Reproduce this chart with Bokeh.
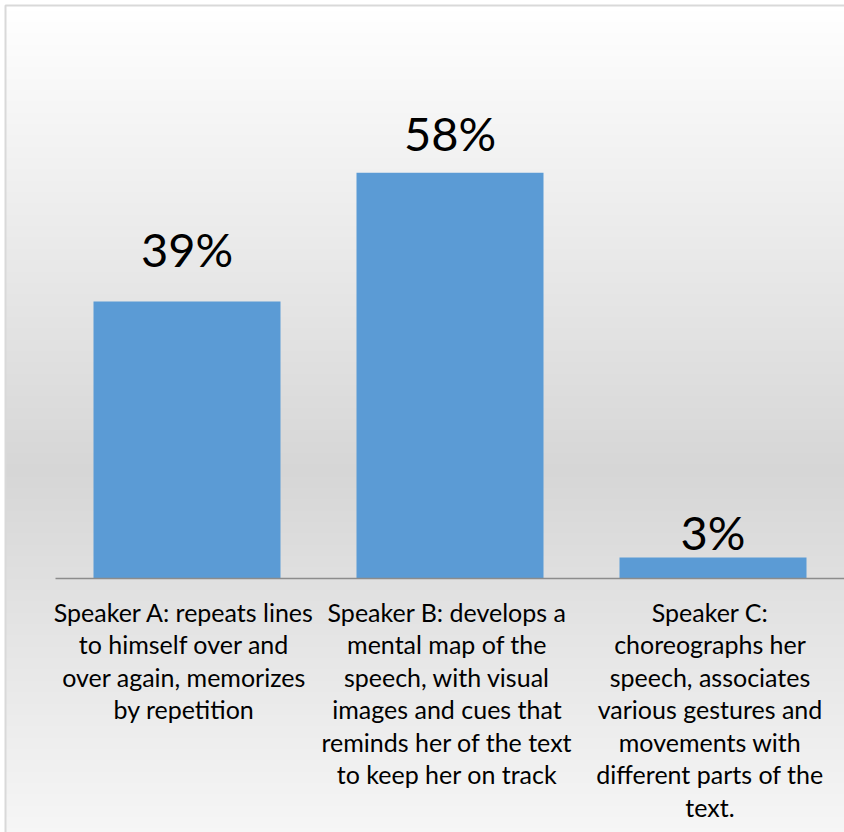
import numpy as np
from bokeh.plotting import figure
from bokeh.models import Range1d
from bokeh.core.properties import value
from bokeh.embed import file_html
from bokeh.resources import INLINE

# ---- data ----
categories = [
    "Speaker A: repeats lines\nto himself over and\nover again, memorizes\nby repetition",
    "Speaker B: develops a\nmental map of the\nspeech, with visual\nimages and cues that\nreminds her of the text\nto keep her on track",
    "Speaker C:\nchoreographs her\nspeech, associates\nvarious gestures and\nmovements with\ndifferent parts of the\ntext.",
]
percentages = [39.4, 57.7, 3.0]
value_labels = ["39%", "58%", "3%"]

# ---- layout (pixels) ----
W, H = 844, 832
CAT_PX = 263.0          # pixels per category
FIRST_CENTER_PX = 186.5 # x pixel of first category centre
BASE_PX = 578.0         # y pixel of zero line
PX_PER_UNIT = 7.03      # pixels per percent
BAR_WIDTH = 187.0 / CAT_PX
LABEL_GAP_PX = [53, 40, 25]
CAT_FIRST_BASELINE_PX = 611.0
CAT_LINE_PX = 32.5

def xd(px):
    return (px - FIRST_CENTER_PX) / CAT_PX

def yd(py):
    return (BASE_PX - py) / PX_PER_UNIT

p = figure(width=W, height=H, output_backend="svg", toolbar_location=None,
           x_range=Range1d(xd(0), xd(W)), y_range=Range1d(yd(H), yd(0)),
           min_border=0, min_border_left=0, min_border_right=0,
           min_border_top=0, min_border_bottom=0)
p.axis.visible = False
p.grid.visible = False
p.outline_line_color = None
p.background_fill_color = "white"
p.border_fill_color = "white"

# ---- gradient chart background ----
top_px, bot_px = 5.0, float(H)
n = int(bot_px - top_px)
img = np.zeros((n, 1), dtype=np.uint32)
view = img.view(dtype=np.uint8).reshape((n, 1, 4))
for k in range(n):  # k=0 is bottom row
    py = bot_px - k - 0.5
    if py <= 470:
        g = 255 + (214 - 255) * (py - 5) / (470 - 5)
    else:
        g = 214 + (255 - 214) * (py - 470) / (935 - 470)
    g = int(round(g))
    view[k, 0, 0] = g
    view[k, 0, 1] = g
    view[k, 0, 2] = g
    view[k, 0, 3] = 255
p.image_rgba(image=[img], x=xd(top_px), y=yd(bot_px),
             dw=xd(W) - xd(top_px), dh=yd(top_px) - yd(bot_px))

# chart border (left and top visible)
p.line(x=[xd(5), xd(5), xd(W + 10)], y=[yd(H + 10), yd(5), yd(5)],
       line_color="#d9d9d9", line_width=2)

# ---- bars ----
xs = list(range(len(percentages)))
p.vbar(x=xs, top=percentages, bottom=0, width=BAR_WIDTH,
       fill_color="#5b9bd5", line_color=None)

# axis line
p.line(x=[-0.5, len(percentages) - 0.5], y=[0, 0], line_color="#8c8c8c", line_width=1.3)

# value labels
label_y = [v + gap / PX_PER_UNIT for v, gap in zip(percentages, LABEL_GAP_PX)]
p.text(x=xs, y=label_y, text=value_labels, text_align="center",
       text_baseline="alphabetic", text_font=value("Lato"),
       text_font_size="47px", text_color="black")

# category labels
lx, ly, lt = [], [], []
for i, cat in enumerate(categories):
    for j, line in enumerate(cat.split("\n")):
        lx.append(i - 3.0 / CAT_PX)
        ly.append(yd(CAT_FIRST_BASELINE_PX + j * CAT_LINE_PX))
        lt.append(line)
p.text(x=lx, y=ly, text=lt, text_align="center", text_baseline="alphabetic",
       text_font=value("Lato"), text_font_size="25px", text_color="black")

open("out.html", "w").write(file_html(p, INLINE))
